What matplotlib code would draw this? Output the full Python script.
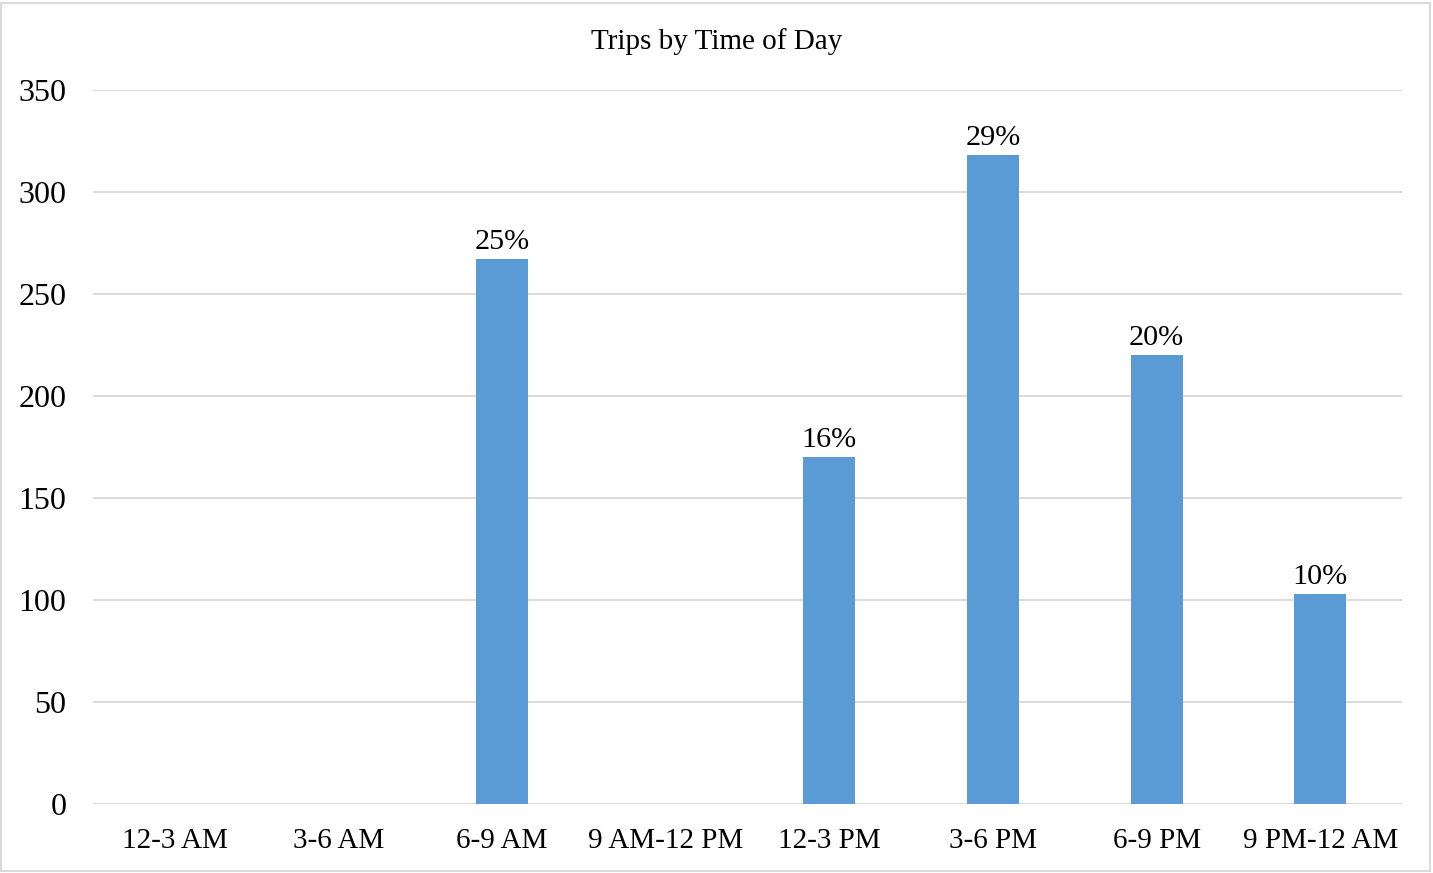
import numpy as np
import matplotlib
matplotlib.use("Agg")
from matplotlib import pyplot as plt
from matplotlib.patches import Rectangle

# data
slots = ["12-3 AM", "3-6 AM", "6-9 AM", "9 AM-12 PM", "12-3 PM", "3-6 PM", "6-9 PM", "9 PM-12 AM"]
trips = [0, 0, 267, 0, 170, 318, 220, 103]
pct_labels = ["", "", "25%", "", "16%", "29%", "20%", "10%"]
yticks = [0, 50, 100, 150, 200, 250, 300, 350]

plt.rcParams['font.family'] = ['Liberation Serif', 'DejaVu Serif']

fig = plt.figure(figsize=(14.33, 8.73), dpi=100)
ax = fig.add_axes([0.0649, 0.079, 0.9135, 0.818])

x = np.arange(len(slots))
bars = ax.bar(x, trips, width=0.318, color='#5B9BD5', zorder=3)
for b, lab in zip(bars, pct_labels):
    if lab:
        ax.annotate(lab, (b.get_x() + b.get_width() / 2, b.get_height()),
                    xytext=(0, 3), textcoords='offset points',
                    ha='center', va='bottom', fontsize=21.7)

ax.set_xlim(-0.5, len(slots) - 0.5)
ax.set_ylim(0, 350)
ax.set_yticks(yticks)
ax.set_xticks(x)
ax.set_xticklabels(slots)
ax.tick_params(axis='both', length=0)
ax.tick_params(axis='x', pad=17, labelsize=21)
ax.tick_params(axis='y', pad=19, labelsize=23)
ax.yaxis.grid(True, color='#D9D9D9', linewidth=1.3, zorder=0)
for s in ax.spines.values():
    s.set_visible(False)
ax.axhline(0, color='#D9D9D9', linewidth=1.3, zorder=2)

fig.text(0.5, 0.953, "Trips by Time of Day", ha='center', va='center', fontsize=21)

# light border round the whole chart
fig.patches.append(Rectangle((0.001, 0.002), 0.997, 0.995, transform=fig.transFigure,
                             fill=False, edgecolor='#D9D9D9', linewidth=1.5))

fig.savefig('out.png', dpi=100)
